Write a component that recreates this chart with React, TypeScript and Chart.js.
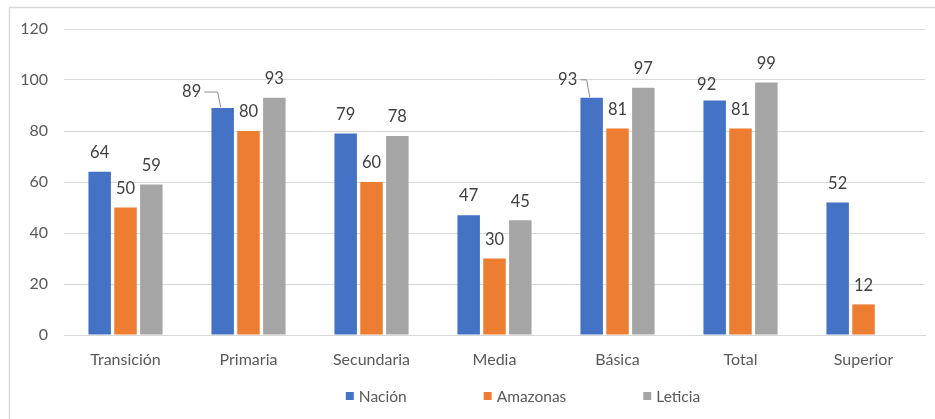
import React, { useEffect, useRef } from "react";
import { Chart, registerables } from "chart.js";
Chart.register(...registerables);

const categories = ["Transición", "Primaria", "Secundaria", "Media", "Básica", "Total", "Superior"];
const nacion = [64, 89, 79, 47, 93, 92, 52];
const amazonas = [50, 80, 60, 30, 81, 81, 12];
const leticia: (number | null)[] = [59, 93, 78, 45, 97, 99, null];
const seriesNames = ["Nación", "Amazonas", "Leticia"];
const yMin = 0;
const yMax = 120;
const yStep = 20;

const COLORS = ["#4472C4", "#ED7D31", "#A5A5A5"];
const FONT = "Lato, 'Open Sans', sans-serif";

// label placement tweaks (dataset-index): dx, dy, leader line
const labelTweaks: Record<string, { dx: number; dy: number; leader?: boolean }> = {
  "0-1": { dx: -31, dy: 3, leader: true },
  "0-4": { dx: -24, dy: 1, leader: true },
  "0-5": { dx: -8, dy: 3 },
};

const framePlugin = {
  id: "frame",
  beforeDraw(chart: any) {
    const ctx = chart.ctx;
    ctx.save();
    ctx.fillStyle = "#ffffff";
    ctx.fillRect(0, 0, chart.width, chart.height);
    ctx.strokeStyle = "#d9d9d9";
    ctx.lineWidth = 1.5;
    ctx.strokeRect(9.5, 7.5, 1000, 1000);
    ctx.restore();
  },
};

const labelPlugin = {
  id: "valueLabels",
  afterDatasetsDraw(chart: any) {
    const ctx = chart.ctx;
    ctx.save();
    ctx.font = `16.5px ${FONT}`;
    ctx.fillStyle = "#404040";
    ctx.textAlign = "center";
    ctx.textBaseline = "middle";
    chart.data.datasets.forEach((ds: any, di: number) => {
      const meta = chart.getDatasetMeta(di);
      meta.data.forEach((el: any, i: number) => {
        const v = ds.data[i];
        if (v === null || v === undefined) return;
        const tw = labelTweaks[`${di}-${i}`] || { dx: 0, dy: 0 };
        const lx = el.x + tw.dx;
        const ly = el.y - 19 + tw.dy;
        const text = String(v);
        ctx.fillText(text, lx, ly);
        if (tw.leader) {
          const w = ctx.measureText(text).width;
          ctx.save();
          ctx.strokeStyle = "#8c8c8c";
          ctx.lineWidth = 1;
          ctx.beginPath();
          ctx.moveTo(lx + w / 2 + 3, ly);
          ctx.lineTo(el.x - 5, ly);
          ctx.lineTo(el.x - 2, el.y - 1);
          ctx.stroke();
          ctx.restore();
        }
      });
    });
    ctx.restore();
  },
};

const legendPlugin = {
  id: "customLegend",
  afterDraw(chart: any) {
    const ctx = chart.ctx;
    ctx.save();
    ctx.font = `15.5px ${FONT}`;
    ctx.textBaseline = "middle";
    ctx.textAlign = "left";
    const box = 8;
    const gapText = 5;
    const gapItem = 77;
    const widths = seriesNames.map((n) => box + gapText + ctx.measureText(n).width);
    const total = widths.reduce((a, b) => a + b, 0) + gapItem * (seriesNames.length - 1);
    let x = 523 - total / 2;
    const y = 396;
    seriesNames.forEach((n, i) => {
      ctx.fillStyle = COLORS[i];
      ctx.fillRect(x, y - box / 2, box, box);
      ctx.fillStyle = "#595959";
      ctx.fillText(n, x + box + gapText, y + 1);
      x += widths[i] + gapItem;
    });
    ctx.restore();
  },
};

export default function App() {
  const ref = useRef<HTMLCanvasElement | null>(null);
  useEffect(() => {
    document.body.style.margin = "0";
    const canvas = ref.current!;
    const seriesData = [nacion, amazonas, leticia];
    const chart = new Chart(canvas, {
      type: "bar",
      data: {
        labels: categories,
        datasets: seriesNames.map((name, i) => ({
          label: name,
          data: seriesData[i] as any,
          backgroundColor: COLORS[i],
          borderWidth: 0,
          categoryPercentage: 0.63,
          barPercentage: 0.87,
        })),
      },
      options: {
        responsive: false,
        animation: false,
        devicePixelRatio: 1,
        layout: { padding: { left: 0, right: 10, top: 29, bottom: 50 } },
        plugins: {
          legend: { display: false },
          tooltip: { enabled: false },
          title: { display: false },
        },
        scales: {
          x: {
            grid: { display: false, drawTicks: false },
            border: { color: "#d9d9d9", width: 1 },
            ticks: { color: "#595959", font: { family: FONT, size: 16 }, padding: 15 },
            afterFit(scale: any) {
              scale.height = 34;
            },
          },
          y: {
            min: yMin,
            max: yMax,
            ticks: { stepSize: yStep, color: "#595959", font: { family: FONT, size: 16 }, padding: 16 },
            grid: { color: "#d9d9d9", drawTicks: false, lineWidth: 1 },
            border: { display: false },
            afterFit(scale: any) {
              scale.width = 64;
            },
          },
        },
      },
      plugins: [framePlugin, labelPlugin, legendPlugin],
    });
    return () => chart.destroy();
  }, []);
  return <canvas ref={ref} width={935} height={419} style={{ display: "block" }} />;
}
